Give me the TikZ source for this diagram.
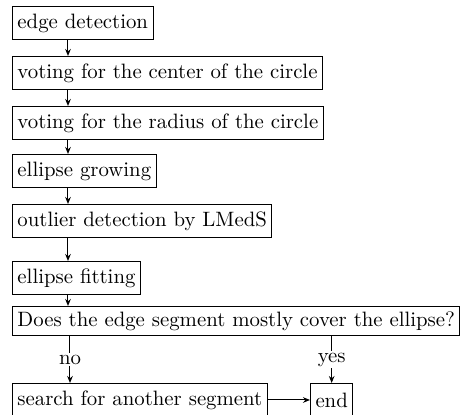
\documentclass[tikz,border=0pt]{standalone}
\usetikzlibrary{arrows.meta}
\begin{document}
\begin{tikzpicture}[x=0.5pt,y=-0.5pt,
  box/.style={draw,line width=0.5pt,anchor=west,inner xsep=2.5pt,inner ysep=0pt,minimum height=16.5pt,font=\fontsize{10.4}{12.5}\selectfont},
  arr/.style={-{Stealth[length=3.5pt,width=2.8pt]},line width=0.5pt},
  lab/.style={font=\fontsize{10.4}{12.5}\selectfont,fill=white,inner sep=1pt}]
\useasboundingbox (0,0) rectangle (462,415);
\node[box] (n1) at (12,23.5) {edge detection};
\node[box] (n2) at (12,73) {voting for the center of the circle};
\node[box] (n3) at (12,123) {voting for the radius of the circle};
\node[box] (n4) at (12,171) {ellipse growing};
\node[box] (n5) at (12,221) {outlier detection by LMedS};
\node[box] (n6) at (12,278) {ellipse fitting};
\node[box,minimum height=14.5pt] (q) at (12,321) {Does the edge segment mostly cover the ellipse?};
\node[box] (s) at (12,400) {search for another segment};
\node[box] (e) at (310,400) {end};
\draw[arr] ([xshift=28pt]n1.south west) -- ([xshift=28pt]n2.north west);
\draw[arr] ([xshift=28pt]n2.south west) -- ([xshift=28pt]n3.north west);
\draw[arr] ([xshift=28pt]n3.south west) -- ([xshift=28pt]n4.north west);
\draw[arr] ([xshift=28pt]n4.south west) -- ([xshift=28pt]n5.north west);
\draw[arr] ([xshift=28pt]n5.south west) -- ([xshift=28pt]n6.north west);
\draw[arr] ([xshift=28pt]n6.south west) -- ([xshift=28pt]q.north west);
\draw[arr] ([xshift=29pt]q.south west) -- node[lab] {no} ([xshift=29pt]s.north west);
\draw[arr] (q.south -| e.north) -- node[lab] {yes} (e.north);
\draw[arr] (s.east) -- (e.west);
\end{tikzpicture}
\end{document}
